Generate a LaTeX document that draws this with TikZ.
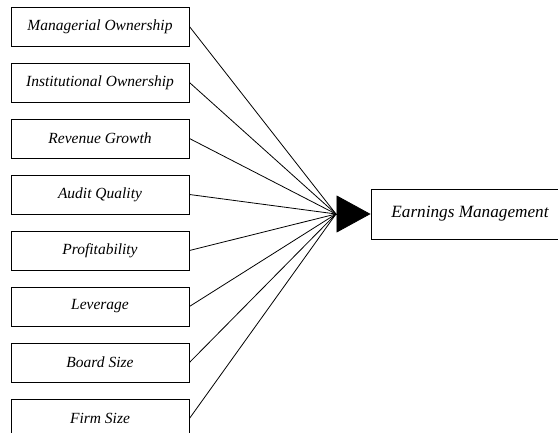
\documentclass[tikz,border=0pt]{standalone}
\usepackage{fontspec}
\setmainfont{Liberation Serif}
\usepackage{tikz}
\usetikzlibrary{arrows.meta,positioning}
\tikzstyle{varbox} = [draw, line width=0.9pt, minimum width=178pt, minimum height=39pt, inner sep=0, font=\fontsize{15.5}{18}\selectfont\itshape]
\tikzstyle{depbox} = [draw, line width=0.9pt, minimum width=198pt, minimum height=50pt, inner sep=0, font=\fontsize{17.2}{20}\selectfont\itshape]
\tikzstyle{link} = [line width=0.8pt]

\begin{document}
\begin{tikzpicture}[x=1pt, y=1pt]

% Page frame
\useasboundingbox (0,0) rectangle (558,432);

% Independent variables
\node[varbox] (mo) at (100,405.5) {Managerial Ownership};
\node[varbox] (io) at (100,349.5) {Institutional Ownership};
\node[varbox] (rg) at (100,293.5) {Revenue Growth};
\node[varbox] (aq) at (100,237.5) {Audit Quality};
\node[varbox] (pr) at (100,181.5) {Profitability};
\node[varbox] (lv) at (100,125.5) {Leverage};
\node[varbox] (bs) at (100,69.5) {Board Size};
\node[varbox] (fs) at (100,13.5) {Firm Size};

% Dependent variable
\node[depbox] (em) at (470,218) {Earnings Management};

% Point where all lines meet
\coordinate (hub) at (336,218);

% Lines into the hub
\draw[link] (mo.east) -- (hub);
\draw[link] (io.east) -- (hub);
\draw[link] (rg.east) -- (hub);
\draw[link] (aq.east) -- (hub);
\draw[link] (pr.east) -- (hub);
\draw[link] (lv.east) -- (hub);
\draw[link] (bs.east) -- (hub);
\draw[link] (fs.east) -- (hub);

% Big arrow head
\draw[link, -{Triangle[length=34pt, width=37pt]}] (hub) -- (em.west);

\end{tikzpicture}
\end{document}
